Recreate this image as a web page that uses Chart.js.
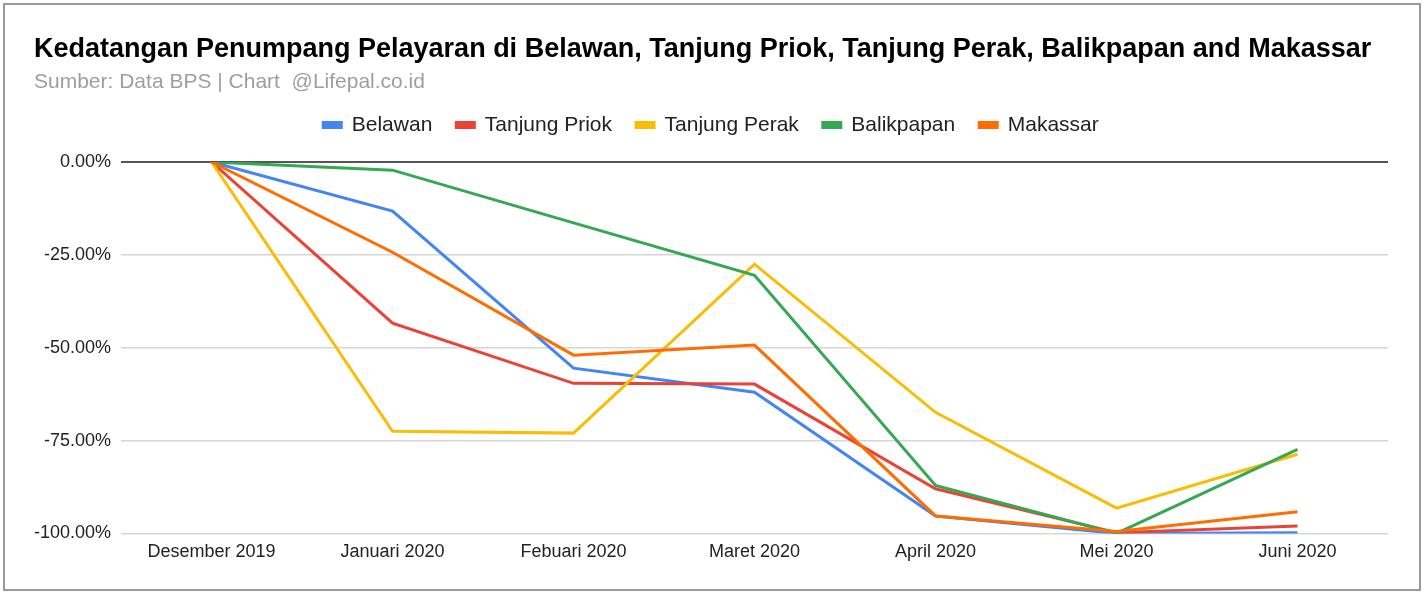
<!DOCTYPE html>
<html>
<head>
<meta charset="utf-8">
<title>Kedatangan Penumpang Pelayaran</title>
<script src="https://cdn.jsdelivr.net/npm/chart.js@4.4.1/dist/chart.umd.min.js"></script>
<style>
  html, body { margin: 0; padding: 0; background: #fff; }
  #frame {
    position: absolute;
    left: 3px; top: 3px;
    width: 1414px; height: 584px;
    border: 2px solid #9a9a9a;
  }
</style>
</head>
<body>
<div id="frame"><canvas id="myChart"></canvas></div>
<script>
var months = ["Desember 2019", "Januari 2020", "Febuari 2020", "Maret 2020", "April 2020", "Mei 2020", "Juni 2020"];

// percent change vs Desember 2019
var belawan      = [0, -13.2, -55.5, -62.0, -95.3, -100.0, -99.8];
var tanjungPriok = [0, -43.4, -59.6, -59.8, -88.0, -99.8, -98.0];
var tanjungPerak = [0, -72.5, -73.0, -27.5, -67.4, -93.2, -78.7];
var balikpapan   = [0, -2.2, -16.4, -30.5, -87.1, -100.0, -77.4];
var makassar     = [0, -24.3, -52.0, -49.3, -95.3, -99.5, -94.2];

var yTicks = [0, -25, -50, -75, -100];

var fontFamily = "'Liberation Sans', Arial, Helvetica, sans-serif";

function line(label, data, color, order) {
  return {
    label: label,
    data: data,
    fill: false,
    borderColor: color,
    backgroundColor: color,
    borderWidth: 3,
    pointRadius: 0,
    pointHoverRadius: 0,
    tension: 0,
    order: order,
  };
}

// extra room under the legend
var legendSpace = {
  id: "legendSpace",
  beforeInit: function (chart) {
    var fit = chart.legend.fit;
    chart.legend.fit = function () {
      fit.call(this);
      this.height += 16.5;
    };
  },
};

var ctx = document.getElementById("myChart").getContext("2d");
var chart = new Chart(ctx, {
  type: "line",
  plugins: [legendSpace],
  data: {
    labels: months,
    datasets: [
      line("Belawan", belawan, "#4285F4", 4),
      line("Tanjung Priok", tanjungPriok, "#EA4335", 3),
      line("Tanjung Perak", tanjungPerak, "#FBBC04", 2),
      line("Balikpapan", balikpapan, "#34A853", 1),
      line("Makassar", makassar, "#FF6D01", 0),
    ],
  },
  options: {
    responsive: true,
    maintainAspectRatio: false,
    animation: false,
    layout: {
      padding: { top: 10, left: 29, right: 31, bottom: 18 },
    },
    plugins: {
      title: {
        display: true,
        align: "start",
        text: "Kedatangan Penumpang Pelayaran di Belawan, Tanjung Priok, Tanjung Perak, Balikpapan and Makassar",
        color: "#000",
        font: { family: fontFamily, size: 27, weight: "bold", lineHeight: 1 },
        padding: { top: 21.5, bottom: 3 },
      },
      subtitle: {
        display: true,
        align: "start",
        text: "Sumber: Data BPS | Chart  @Lifepal.co.id",
        color: "#9e9e9e",
        font: { family: fontFamily, size: 21, lineHeight: 1 },
        padding: { top: 5, bottom: -2 },
      },
      legend: {
        display: true,
        position: "top",
        labels: {
          boxWidth: 18,
          boxHeight: 5,
          color: "#222",
          padding: 24,
          font: { family: fontFamily, size: 21 },
          sort: function (a, b) { return a.datasetIndex - b.datasetIndex; },
        },
      },
      tooltip: { enabled: false },
    },
    scales: {
      x: {
        offset: true,
        grid: { display: false, drawTicks: false },
        border: { display: false },
        ticks: {
          color: "#222",
          padding: 8,
          maxRotation: 0,
          font: { family: fontFamily, size: 18 },
        },
      },
      y: {
        min: -100,
        max: 0,
        afterBuildTicks: function (axis) {
          axis.ticks = yTicks.map(function (v) { return { value: v }; });
        },
        afterFit: function (axis) {
          axis.width -= 10;
        },
        grid: {
          drawTicks: false,
          lineWidth: function (c) { return c.tick && c.tick.value === 0 ? 2 : 1.5; },
          color: function (c) { return c.tick && c.tick.value === 0 ? "#555" : "#d6d6d6"; },
        },
        border: { display: false },
        ticks: {
          color: "#222",
          padding: 10,
          font: { family: fontFamily, size: 18 },
          callback: function (v) { return v.toFixed(2) + "%"; },
        },
      },
    },
  },
});
</script>
</body>
</html>
